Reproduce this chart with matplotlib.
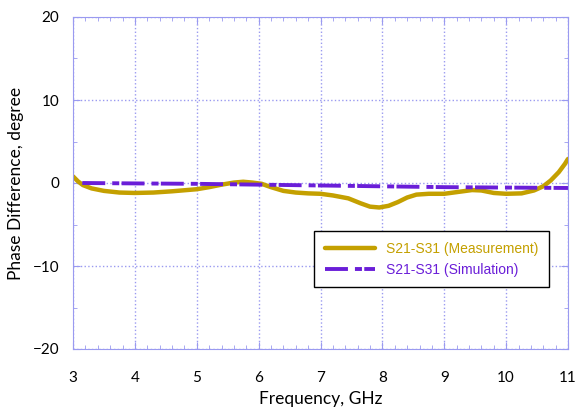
import matplotlib.pyplot as plt
from matplotlib.ticker import MultipleLocator

# Measured phase difference (degree) vs frequency (GHz)
freq_meas = [3.0, 3.08, 3.16, 3.3, 3.5, 3.75, 4.0, 4.3, 4.6, 5.0, 5.2, 5.4, 5.6, 5.75,
             5.9, 6.05, 6.2, 6.4, 6.6, 6.8, 7.0, 7.2, 7.45, 7.65, 7.8, 7.95, 8.1, 8.25,
             8.4, 8.55, 8.75, 9.0, 9.2, 9.45, 9.6, 9.8, 10.0, 10.25, 10.45, 10.6, 10.72,
             10.85, 10.95, 11.0]
phase_meas = [0.8, 0.2, -0.25, -0.65, -0.95, -1.15, -1.2, -1.15, -1.0, -0.75, -0.5, -0.2,
              0.05, 0.15, 0.05, -0.1, -0.5, -0.95, -1.15, -1.25, -1.3, -1.5, -1.85, -2.45,
              -2.85, -2.95, -2.75, -2.3, -1.75, -1.4, -1.3, -1.3, -1.1, -0.85, -0.9, -1.2,
              -1.3, -1.25, -0.9, -0.4, 0.3, 1.3, 2.3, 2.9]

# Simulated phase difference
freq_sim = [3.15, 4.0, 5.0, 6.0, 7.0, 8.0, 9.0, 10.0, 11.0]
phase_sim = [0.0, -0.05, -0.1, -0.2, -0.3, -0.4, -0.5, -0.55, -0.6]

gold = '#C4A000'
purple = '#6A1ED8'
frame = '#9A9AF0'

plt.rcParams['font.family'] = ['Lato', 'DejaVu Sans']

fig = plt.figure(figsize=(5.86, 4.18), dpi=100)
ax = fig.add_axes([73 / 586, 69 / 418, 495 / 586, 332 / 418])

ax.plot(freq_meas, phase_meas, color=gold, linewidth=3.2, solid_capstyle='round',
        solid_joinstyle='round', label='S21-S31 (Measurement)')
ax.plot(freq_sim, phase_sim, color=purple, linewidth=2.8,
        dashes=(5.9, 1.8, 1.8, 0.6), label='S21-S31 (Simulation)')

ax.set_xlim(3, 11)
ax.set_ylim(-20, 20)
ax.xaxis.set_major_locator(MultipleLocator(1))
ax.xaxis.set_minor_locator(MultipleLocator(0.2))
ax.yaxis.set_major_locator(MultipleLocator(10))
ax.yaxis.set_minor_locator(MultipleLocator(5))

ax.grid(True, which='major', linestyle=':', color=frame, linewidth=1.0)
ax.tick_params(which='both', direction='in', top=True, right=True, colors=frame,
               labelcolor='black', labelsize=11)
ax.tick_params(axis='x', pad=16)
ax.tick_params(axis='y', pad=10)
ax.tick_params(which='major', length=5)
ax.tick_params(which='minor', length=3)
for s in ax.spines.values():
    s.set_color(frame)

ax.set_xlabel('Frequency, GHz', fontsize=12.5, labelpad=4)
ax.set_ylabel('Phase Difference, degree', fontsize=12.5, labelpad=6)

leg = ax.legend(loc='lower right', bbox_to_anchor=(0.975, 0.165),
                prop={'family': 'Liberation Sans', 'size': 10},
                fancybox=False, edgecolor='black', framealpha=1, handlelength=3.6,
                borderpad=0.75, labelspacing=0.5)
leg.get_frame().set_linewidth(1.0)
for txt, c in zip(leg.get_texts(), [gold, purple]):
    txt.set_color(c)

plt.savefig('out.png', dpi=100)
